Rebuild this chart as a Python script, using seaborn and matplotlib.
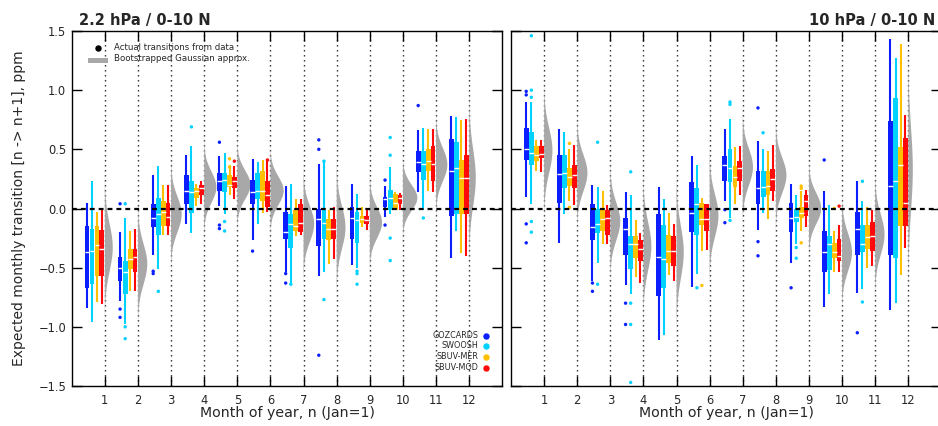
import numpy as np
import pandas as pd
import matplotlib
matplotlib.use("Agg")
import matplotlib.pyplot as plt
import matplotlib.patches as mpatches
import seaborn as sns

# ---------------- data ----------------
MONTHS = list(range(1, 13))
DATASETS = ["GOZCARDS", "SWOOSH", "SBUV-MER", "SBUV-MOD"]
COLORS = ["#0a1eff", "#00d2ff", "#ffc000", "#ff0a0a"]

# box statistics per month: [whisker low, q1, median, q3, whisker high]
L_GOZCARDS = [[-0.84, -0.67, -0.37, -0.15, 0.05], [-0.78, -0.61, -0.50, -0.41, -0.20],
              [-0.39, -0.16, -0.08, 0.04, 0.28], [-0.13, 0.04, 0.15, 0.28, 0.45],
              [0.02, 0.15, 0.23, 0.30, 0.44], [-0.27, 0.04, 0.14, 0.24, 0.42],
              [-0.54, -0.26, -0.20, -0.03, 0.19], [-0.57, -0.32, -0.09, 0.00, 0.38],
              [-0.48, -0.26, -0.08, 0.01, 0.21], [-0.07, 0.01, 0.08, 0.10, 0.19],
              [0.14, 0.31, 0.39, 0.49, 0.66], [-0.42, -0.06, 0.32, 0.59, 0.78]]
L_SWOOSH = [[-0.96, -0.64, -0.36, -0.17, 0.23], [-0.98, -0.72, -0.54, -0.44, -0.08],
            [-0.51, -0.22, -0.05, 0.09, 0.36], [-0.21, -0.04, 0.14, 0.23, 0.53],
            [-0.05, 0.14, 0.24, 0.30, 0.47], [-0.13, 0.08, 0.15, 0.30, 0.39],
            [-0.63, -0.33, -0.13, -0.05, 0.21], [-0.54, -0.26, -0.12, -0.01, 0.39],
            [-0.50, -0.29, -0.10, -0.03, 0.12], [-0.05, -0.01, 0.09, 0.16, 0.35],
            [-0.01, 0.24, 0.38, 0.49, 0.68], [-0.19, -0.05, 0.34, 0.56, 0.77]]
L_SBUVMER = [[-0.79, -0.57, -0.31, -0.15, -0.03], [-0.70, -0.51, -0.43, -0.34, -0.19],
             [-0.22, -0.15, -0.03, 0.06, 0.20], [0.02, 0.09, 0.15, 0.17, 0.21],
             [0.11, 0.18, 0.20, 0.28, 0.37], [-0.04, 0.06, 0.15, 0.32, 0.41],
             [-0.23, -0.19, -0.15, -0.01, 0.08], [-0.47, -0.27, -0.17, -0.09, -0.01],
             [-0.16, -0.12, -0.09, -0.06, 0.01], [-0.01, -0.01, 0.05, 0.12, 0.14],
             [0.15, 0.32, 0.40, 0.50, 0.67], [-0.38, -0.05, 0.26, 0.41, 0.75]]
L_SBUVMOD = [[-0.81, -0.57, -0.34, -0.18, -0.01], [-0.70, -0.54, -0.41, -0.34, -0.17],
             [-0.22, -0.15, -0.07, 0.05, 0.20], [0.04, 0.11, 0.17, 0.20, 0.23],
             [0.08, 0.17, 0.23, 0.27, 0.36], [-0.03, 0.01, 0.11, 0.23, 0.40],
             [-0.22, -0.20, -0.12, 0.04, 0.08], [-0.43, -0.26, -0.17, -0.09, 0.01],
             [-0.18, -0.13, -0.10, -0.06, 0.00], [-0.01, 0.04, 0.09, 0.11, 0.13],
             [0.14, 0.23, 0.38, 0.53, 0.67], [-0.40, -0.05, 0.26, 0.45, 0.76]]

R_GOZCARDS = [[0.10, 0.41, 0.50, 0.68, 0.90], [-0.29, 0.05, 0.29, 0.45, 0.67],
              [-0.61, -0.27, -0.16, 0.04, 0.20], [-0.65, -0.39, -0.17, -0.08, 0.14],
              [-1.11, -0.74, -0.41, -0.05, 0.18], [-0.66, -0.20, -0.04, 0.22, 0.44],
              [0.06, 0.23, 0.37, 0.44, 0.67], [-0.18, 0.04, 0.17, 0.32, 0.57],
              [-0.46, -0.20, -0.08, 0.05, 0.21], [-0.83, -0.54, -0.37, -0.19, 0.15],
              [-0.71, -0.39, -0.17, -0.03, 0.23], [-0.86, -0.39, 0.19, 0.74, 1.43]]
R_SWOOSH = [[0.04, 0.37, 0.47, 0.65, 0.90], [-0.05, 0.17, 0.30, 0.45, 0.65],
            [-0.46, -0.21, -0.13, 0.00, 0.18], [-0.72, -0.51, -0.30, -0.23, 0.11],
            [-1.07, -0.67, -0.43, -0.14, 0.08], [-0.55, -0.22, 0.04, 0.17, 0.37],
            [-0.08, 0.22, 0.34, 0.50, 0.76], [-0.04, 0.10, 0.18, 0.32, 0.50],
            [-0.30, -0.11, -0.07, 0.00, 0.11], [-0.72, -0.52, -0.30, -0.23, 0.03],
            [-0.68, -0.37, -0.30, -0.14, 0.06], [-0.80, -0.42, 0.23, 0.93, 1.27]]
R_SBUVMER = [[0.32, 0.40, 0.45, 0.53, 0.58], [0.06, 0.19, 0.27, 0.34, 0.50],
             [-0.30, -0.19, -0.09, -0.01, 0.15], [-0.58, -0.42, -0.30, -0.23, -0.10],
             [-0.56, -0.46, -0.36, -0.22, -0.04], [-0.36, -0.14, -0.09, 0.05, 0.09],
             [0.04, 0.18, 0.27, 0.36, 0.52], [-0.09, 0.11, 0.19, 0.32, 0.49],
             [-0.19, -0.08, -0.04, 0.01, 0.15], [-0.54, -0.42, -0.37, -0.29, -0.19],
             [-0.50, -0.34, -0.24, -0.14, 0.01], [-0.56, -0.15, 0.37, 0.52, 1.39]]
R_SBUVMOD = [[0.31, 0.43, 0.46, 0.53, 0.58], [0.03, 0.17, 0.28, 0.37, 0.54],
             [-0.30, -0.22, -0.08, -0.01, 0.03], [-0.63, -0.44, -0.34, -0.27, -0.21],
             [-0.61, -0.49, -0.36, -0.23, -0.13], [-0.35, -0.19, -0.09, 0.04, 0.04],
             [0.11, 0.23, 0.34, 0.40, 0.53], [0.06, 0.15, 0.25, 0.33, 0.54],
             [-0.16, -0.06, 0.06, 0.11, 0.16], [-0.54, -0.44, -0.40, -0.26, -0.14],
             [-0.49, -0.36, -0.23, -0.11, -0.01], [-0.33, -0.15, 0.05, 0.60, 0.79]]

# outliers ("actual transitions" beyond whiskers): month, dataset index, value
L_OUT_MONTH = [2, 2, 2, 3, 3, 5, 5, 5, 6, 7, 7, 8, 8, 8, 10, 10, 11,
               2, 2, 2, 3, 4, 5, 5, 7, 8, 8, 9, 9, 9, 10, 10, 10, 10, 11,
               5, 5, 5, 6]
L_OUT_SET = [0] * 17 + [1] * 18 + [2, 2, 3, 3]
L_OUT_VALUE = [0.04, -0.85, -0.92, -0.53, -0.55, 0.56, -0.14, -0.17, -0.36, -0.55, -0.63,
               0.58, 0.50, -1.24, 0.24, -0.14, 0.87,
               0.04, -1.00, -1.10, -0.70, 0.69, -0.11, -0.19, -0.64, 0.40, -0.77,
               -0.53, -0.55, -0.64, 0.60, 0.45, -0.25, -0.44, -0.08,
               0.42, 0.35, 0.40, 0.41]

R_OUT_MONTH = [1, 1, 1, 1, 3, 3, 4, 4, 7, 7, 8, 8, 8, 9, 10, 11,
               1, 1, 1, 1, 1, 3, 3, 4, 4, 4, 4, 6, 7, 7, 7, 8, 9, 9, 11, 11,
               2, 2, 6, 9, 9, 9, 10,
               10]
R_OUT_SET = [0] * 16 + [1] * 20 + [2] * 7 + [3]
R_OUT_VALUE = [0.99, 0.96, -0.13, -0.29, -0.63, -0.70, -0.80, -0.98, -0.01, -0.12,
               0.85, -0.28, -0.40, -0.67, 0.41, -1.05,
               1.46, 1.00, 0.94, -0.11, -0.20, 0.56, -0.64, 0.31, -0.80, -0.98, -1.47,
               -0.67, 0.90, 0.88, -0.10, 0.64, -0.33, -0.42, 0.23, -0.79,
               0.55, 0.01, -0.65, 0.19, 0.17, -0.29, 0.00,
               0.02]

# bootstrapped Gaussian approximation: mean and standard deviation per month
L_GAUSS_MU = [-0.33, -0.47, -0.05, 0.18, 0.20, 0.15, -0.13, -0.16, -0.12, 0.09, 0.37, 0.26]
L_GAUSS_SD = [0.20, 0.17, 0.15, 0.13, 0.12, 0.12, 0.15, 0.18, 0.13, 0.11, 0.14, 0.24]
R_GAUSS_MU = [0.49, 0.30, -0.11, -0.32, -0.37, -0.06, 0.35, 0.28, 0.00, -0.37, -0.22, 0.33]
R_GAUSS_SD = [0.19, 0.155, 0.16, 0.20, 0.22, 0.18, 0.155, 0.15, 0.13, 0.16, 0.17, 0.35]

# ---------------- style ----------------
sns.set_theme(style="ticks")
plt.rcParams["font.family"] = ["DejaVu Sans"]
plt.rcParams["axes.unicode_minus"] = True
plt.rcParams["patch.force_edgecolor"] = False

OFFSETS = [-0.54, -0.385, -0.235, -0.09]
BOX_W = 0.145
GAUSS_SCALE = 0.12
GRAY = "#a8a8a8"

W, H = 938, 426
fig = plt.figure(figsize=(W / 100, H / 100), dpi=100)
axL = fig.add_axes([71.7 / W, 1 - 386 / H, (502.3 - 71.7) / W, 355 / H])
axR = fig.add_axes([511 / W, 1 - 386 / H, (941.4 - 511) / W, 355 / H])


def draw_panel(ax, stats_sets, out_m, out_s, out_v, mus, sds, labels):
    months = np.array(MONTHS, dtype=float)
    # dotted month separators
    for m in MONTHS:
        ax.axvline(m, color="#222222", lw=1.0, ls=(0, (1, 2.6)), zorder=0.5)
    # Gaussian half-violins
    for m, mu, sd in zip(MONTHS, mus, sds):
        y = np.linspace(mu - 4 * sd, mu + 4 * sd, 300)
        pdf = np.exp(-0.5 * ((y - mu) / sd) ** 2) / (sd * np.sqrt(2 * np.pi))
        ax.fill_betweenx(y, m, m + GAUSS_SCALE * pdf, facecolor=GRAY,
                         edgecolor="none", linewidth=0, zorder=1)
    # boxes
    for k, stats in enumerate(stats_sets):
        bstats = [dict(whislo=s[0], q1=s[1], med=s[2], q3=s[3], whishi=s[4], fliers=[])
                  for s in stats]
        ax.bxp(bstats, positions=months + OFFSETS[k], widths=BOX_W, patch_artist=True,
               showcaps=False, showfliers=False, manage_ticks=False,
               boxprops=dict(facecolor=COLORS[k], edgecolor="none", linewidth=0),
               whiskerprops=dict(color=COLORS[k], linewidth=1.5, solid_capstyle="butt"),
               medianprops=dict(color="white", linewidth=1.0, solid_capstyle="butt"),
               zorder=3)
    # outliers
    df = pd.DataFrame({"x": np.array(out_m, dtype=float) + np.array(OFFSETS)[out_s],
                       "y": out_v,
                       "ds": [DATASETS[i] for i in out_s]})
    sns.scatterplot(data=df, x="x", y="y", hue="ds", hue_order=DATASETS,
                    palette=COLORS, s=6, linewidth=0, legend=False, ax=ax, zorder=4)
    # zero line
    ax.axhline(0, color="black", lw=1.6, ls=(0, (2.2, 1.8)), zorder=5)

    ax.set_xlim(0, 13)
    ax.set_ylim(-1.5, 1.5)
    ax.set_xticks(MONTHS)
    ax.set_xticklabels([str(m) for m in MONTHS])
    ax.set_yticks([-1.5, -1.0, -0.5, 0.0, 0.5, 1.0, 1.5])
    ax.tick_params(axis="both", direction="in", top=True, right=True, length=7,
                   width=1.0, color="black", labelsize=8.3)
    ax.tick_params(axis="x", pad=6)
    ax.tick_params(axis="y", pad=4, labelleft=labels)
    ax.set_xlabel("")
    ax.set_ylabel("")
    for sp in ax.spines.values():
        sp.set_visible(True)
        sp.set_color("black")
        sp.set_linewidth(1.0)
    ax.set_facecolor("white")


draw_panel(axL, [L_GOZCARDS, L_SWOOSH, L_SBUVMER, L_SBUVMOD],
           L_OUT_MONTH, L_OUT_SET, L_OUT_VALUE, L_GAUSS_MU, L_GAUSS_SD, True)
draw_panel(axR, [R_GOZCARDS, R_SWOOSH, R_SBUVMER, R_SBUVMOD],
           R_OUT_MONTH, R_OUT_SET, R_OUT_VALUE, R_GAUSS_MU, R_GAUSS_SD, False)


def ax_frac_y(py):
    return (386 - py) / 355


def ax_frac_x(px):
    return (px - 71.7) / (502.3 - 71.7)


# upper-left legend
axL.scatter([ax_frac_x(98)], [ax_frac_y(48.3)], s=13, color="black",
            transform=axL.transAxes, zorder=6, clip_on=False)
axL.add_patch(mpatches.Rectangle((ax_frac_x(88.3), ax_frac_y(63)),
                                 ax_frac_x(107.7) - ax_frac_x(88.3), 5.3 / 355,
                                 transform=axL.transAxes,
                                 facecolor=GRAY, edgecolor="none", zorder=6))
axL.text(ax_frac_x(114.5), ax_frac_y(47.5), "Actual transitions from data",
         transform=axL.transAxes, fontsize=6.2, va="center", ha="left", zorder=6)
axL.text(ax_frac_x(114.5), ax_frac_y(58.3), "Bootstrapped Gaussian approx.",
         transform=axL.transAxes, fontsize=6.2, va="center", ha="left", zorder=6)

# dataset legend (lower right of left panel)
for name, col, py in zip(DATASETS, COLORS, [335.7, 345.9, 356.8, 367.5]):
    axL.text(ax_frac_x(478.5), ax_frac_y(py), name, transform=axL.transAxes,
             fontsize=5.8, ha="right", va="center", zorder=6)
    axL.scatter([ax_frac_x(486)], [ax_frac_y(py)], s=13, color=col,
                transform=axL.transAxes, zorder=6, clip_on=False)

# titles and labels
fig.text(79 / W, 1 - 25.5 / H, "2.2 hPa / 0-10 N", fontsize=10.5, fontweight="bold",
         ha="left", va="baseline")
fig.text(935 / W, 1 - 25.5 / H, "10 hPa / 0-10 N", fontsize=10.5, fontweight="bold",
         ha="right", va="baseline")
fig.text(19 / W, 1 - 208 / H, "Expected monthly transition [n -> n+1], ppm",
         rotation=90, fontsize=10, ha="center", va="center")
fig.text(287 / W, 1 - 413 / H, "Month of year, n (Jan=1)", fontsize=10.2,
         ha="center", va="center")
fig.text(726 / W, 1 - 413 / H, "Month of year, n (Jan=1)", fontsize=10.2,
         ha="center", va="center")

fig.savefig("out.png", dpi=100, facecolor="white")
